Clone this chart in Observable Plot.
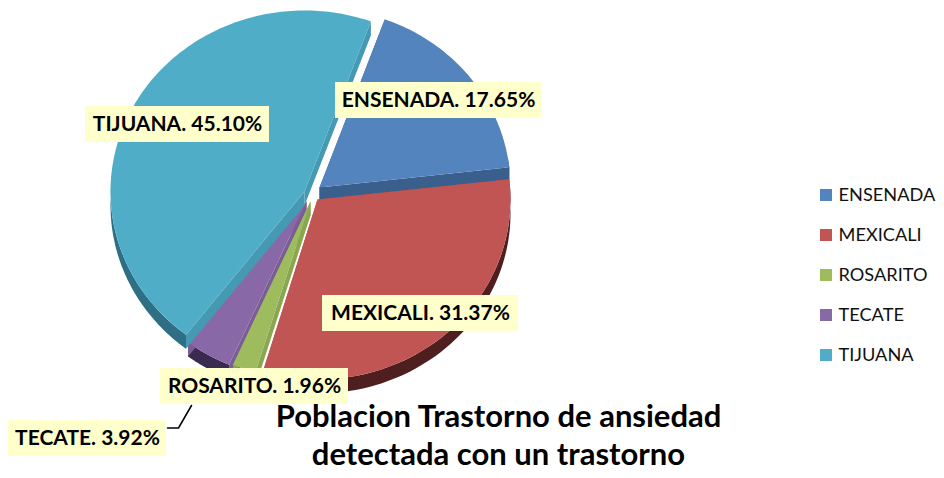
<!DOCTYPE html>
<html>
<head>
<meta charset="utf-8">
<script src="https://cdn.jsdelivr.net/npm/d3@7"></script>
<script src="https://cdn.jsdelivr.net/npm/@observablehq/plot@0.6"></script>
<style>
html,body{margin:0;padding:0;background:#fff}
svg{display:block}
</style>
</head>
<body>
<div id="chart"></div>
<script>
// ---- data ----
const categories = ["ENSENADA", "MEXICALI", "ROSARITO", "TECATE", "TIJUANA"];
const percents = [17.65, 31.37, 1.96, 3.92, 45.10];
const percentLabels = ["17.65%", "31.37%", "1.96%", "3.92%", "45.10%"];
const titleLines = ["Poblacion Trastorno de ansiedad", "detectada con un trastorno"];

// ---- styles ----
const topColors  = ["#5484be", "#c15553", "#9ebb5d", "#8868a6", "#4fadc8"];
const sideColors = ["#3a5f8c", "#4f1f1f", "#6f8640", "#3a2a50", "#2f6f85"];
const cutColors  = ["#3a5f8c", "#a84a48", "#8aa650", "#7a5c96", "#4599b2"];

// ---- layout ----
const W = 944, H = 478, depth = 14;
const apexX = [319, 317, 310, 306, 304];
const apexY = [187, 199, 201, 201, 191];
const radX  = [191, 193, 194, 194, 194];
const radY  = [179, 180, 178, 178, 181];
const labelCx = [438, 420, 254, 87, 177];
const labelCy = [100, 313, 386, 438, 124];
const labelHalfW = [103, 98, 94, 79, 92];
const labelHalfH = 18;
const drawOrder = [3, 2, 4, 0, 1];

const deg = Math.PI / 180;
const arcs = d3.pie().sort(null)
  .startAngle(20 * deg).endAngle(380 * deg)(percents);

const rim = (i, a, dy = 0) => ({
  x: apexX[i] + radX[i] * Math.sin(a),
  y: apexY[i] - radY[i] * Math.cos(a) + dy
});
const sweep = (a0, a1) => d3.range(0, 61).map(k => a0 + (a1 - a0) * k / 60);

function topFace(i) {
  const {startAngle: a0, endAngle: a1} = arcs[i];
  const steps = Math.max(2, Math.ceil((a1 - a0) / deg));
  const pts = d3.range(0, steps + 1).map(k => rim(i, a0 + (a1 - a0) * k / steps));
  return [{x: apexX[i], y: apexY[i]}, ...pts];
}
function sideFace(i) {
  // only the part of the rim that faces the viewer (lower half of the ellipse)
  const a0 = Math.max(arcs[i].startAngle, 80 * deg);
  const a1 = Math.min(arcs[i].endAngle, 272 * deg);
  if (a1 <= a0) return [];
  const s = sweep(a0, a1);
  return [...s.map(a => rim(i, a)), ...s.slice().reverse().map(a => rim(i, a, depth))];
}
function cutFace(i, a) {
  return [
    {x: apexX[i], y: apexY[i]},
    rim(i, a),
    rim(i, a, depth),
    {x: apexX[i], y: apexY[i] + depth}
  ];
}

const font = "Lato, 'Open Sans', sans-serif";
const sliceMarks = drawOrder.flatMap(i => [
  Plot.line(sideFace(i), {x: "x", y: "y", fill: sideColors[i], stroke: "none"}),
  Plot.line(cutFace(i, arcs[i].startAngle), {x: "x", y: "y", fill: cutColors[i], stroke: "none"}),
  Plot.line(cutFace(i, arcs[i].endAngle), {x: "x", y: "y", fill: i === 0 ? sideColors[0] : cutColors[i], stroke: "none"}),
  Plot.line(topFace(i), {x: "x", y: "y", fill: topColors[i], stroke: "none"})
]);

const rows = categories.map((name, i) => ({
  name, i,
  text: `${name}. ${percentLabels[i]}`,
  cx: labelCx[i], cy: labelCy[i],
  x1: labelCx[i] - labelHalfW[i], x2: labelCx[i] + labelHalfW[i],
  y1: labelCy[i] - labelHalfH, y2: labelCy[i] + labelHalfH,
  ly: 195 + i * 40
}));

const chart = Plot.plot({
  width: W, height: H, margin: 0,
  style: {background: "#fff", fontFamily: font},
  x: {domain: [0, W], range: [0, W], axis: null},
  y: {domain: [0, H], range: [0, H], axis: null},
  marks: [
    ...sliceMarks,
    // leader line of the TECATE label
    Plot.line([{x: 191, y: 405}, {x: 178, y: 427.5}, {x: 167, y: 427.5}],
      {x: "x", y: "y", stroke: "#000", strokeWidth: 1.5}),
    Plot.rect(rows, {x1: "x1", x2: "x2", y1: "y1", y2: "y2", fill: "#ffffcc"}),
    Plot.text(rows, {x: "cx", y: "cy", text: "text", fontSize: 21, fontWeight: 700, fill: "#000", fontFamily: font, lineAnchor: "middle"}),
    // legend
    Plot.rect(rows, {x1: () => 820, x2: () => 832, y1: d => d.ly - 6, y2: d => d.ly + 6, fill: d => topColors[d.i]}),
    Plot.text(rows, {x: () => 838, y: "ly", text: "name", textAnchor: "start", fontSize: 18.2, fill: "#111", fontFamily: font, lineAnchor: "middle"}),
    // title
    Plot.text(titleLines, {x: () => 498, y: (d, i) => 417 + i * 38, text: d => d, fontSize: 31, fontWeight: 700, fill: "#000", fontFamily: font, lineAnchor: "middle"})
  ]
});
document.getElementById("chart").appendChild(chart);
</script>
</body>
</html>
